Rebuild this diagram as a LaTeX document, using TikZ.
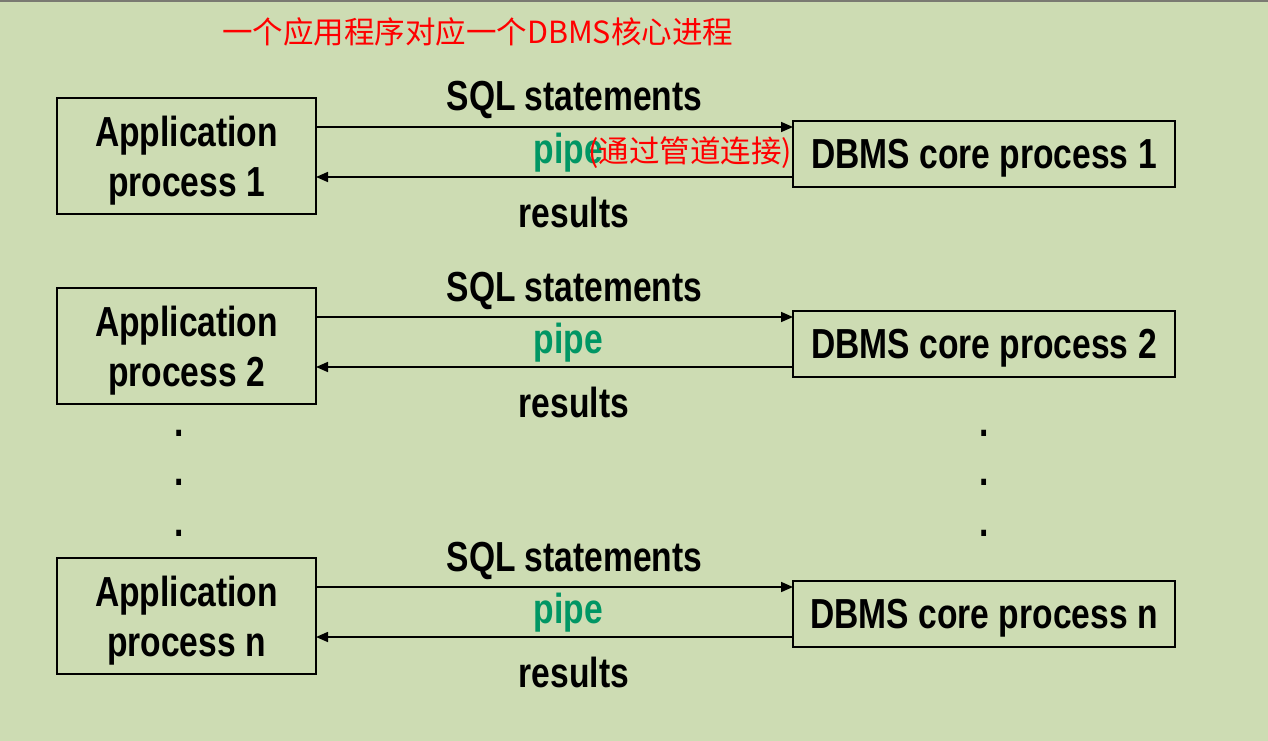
\documentclass[tikz,border=0pt]{standalone}
\usepackage{fontspec}
\usetikzlibrary{arrows.meta,calc}
\newfontfamily\bsf[FakeStretch=0.8]{Liberation Sans Bold}
\newfontfamily\cjk{Noto Sans CJK SC}
\definecolor{bg}{RGB}{205,220,179}
\definecolor{pipegreen}{RGB}{0,150,100}
\definecolor{topbar}{RGB}{122,122,114}
\begin{document}
\begin{tikzpicture}[x=1pt,y=-1pt,
  lbl/.style={font=\bsf\fontsize{42}{47}\selectfont, inner sep=0pt, anchor=base},
  appbox/.style={draw, line width=2pt, minimum width=259pt, minimum height=116pt,
    inner sep=0pt, outer sep=0pt, align=center, text depth=0pt,
    font=\bsf\fontsize{42}{50}\selectfont},
  dbbox/.style={draw, line width=2pt, minimum width=382pt, minimum height=66pt,
    inner sep=0pt, outer sep=0pt, text depth=0pt, font=\bsf\fontsize{42}{47}\selectfont},
  arr/.style={line width=1.6pt, -{Triangle[length=12pt,width=10pt]}},
  redtxt/.style={font=\cjk\fontsize{30.5}{34}\selectfont, text=red, inner sep=0pt, anchor=base west},
  dot/.style={font=\bsf\fontsize{42}{47}\selectfont, inner sep=0pt, anchor=base}]
\fill[bg] (0,0) rectangle (1268,741);
\useasboundingbox (0,0) rectangle (1268,741);
\fill[topbar] (0,0) rectangle (1268,2);
\node[redtxt] (title) at (222,44) {一个应用程序对应一个DBMS核心进程};
\foreach \dy/\k in {0/1,190/2,460/n} {
  \node[appbox] (a\k) at (186.5,156+\dy) {Application\\process \k};
  \node[dbbox] (d\k) at (984,154+\dy) {DBMS core process \k};
  \coordinate (t\k) at ($(d\k.north west)+(0,6)$);
  \coordinate (b\k) at ($(d\k.south west)+(0,-10)$);
  \draw[arr] (a\k.east |- t\k) -- (t\k);
  \draw[arr] (b\k) -- (a\k.east |- b\k);
  \node[lbl] (sql\k) at (574.5,111+\dy) {SQL statements};
  \node[lbl,text=pipegreen] (pipe\k) at (568.5,163+\dy) {pipe};
  \node[lbl] (res\k) at (574,227+\dy) {results};
}
\node[redtxt] (note) at (588,162) {(通过管道连接)};
\foreach \y/\j in {436/1,485/2,536/3} {
  \node[dot] (ld\j) at (179,\y) {.};
  \node[dot] (rd\j) at (984,\y) {.};
}
\end{tikzpicture}
\end{document}
